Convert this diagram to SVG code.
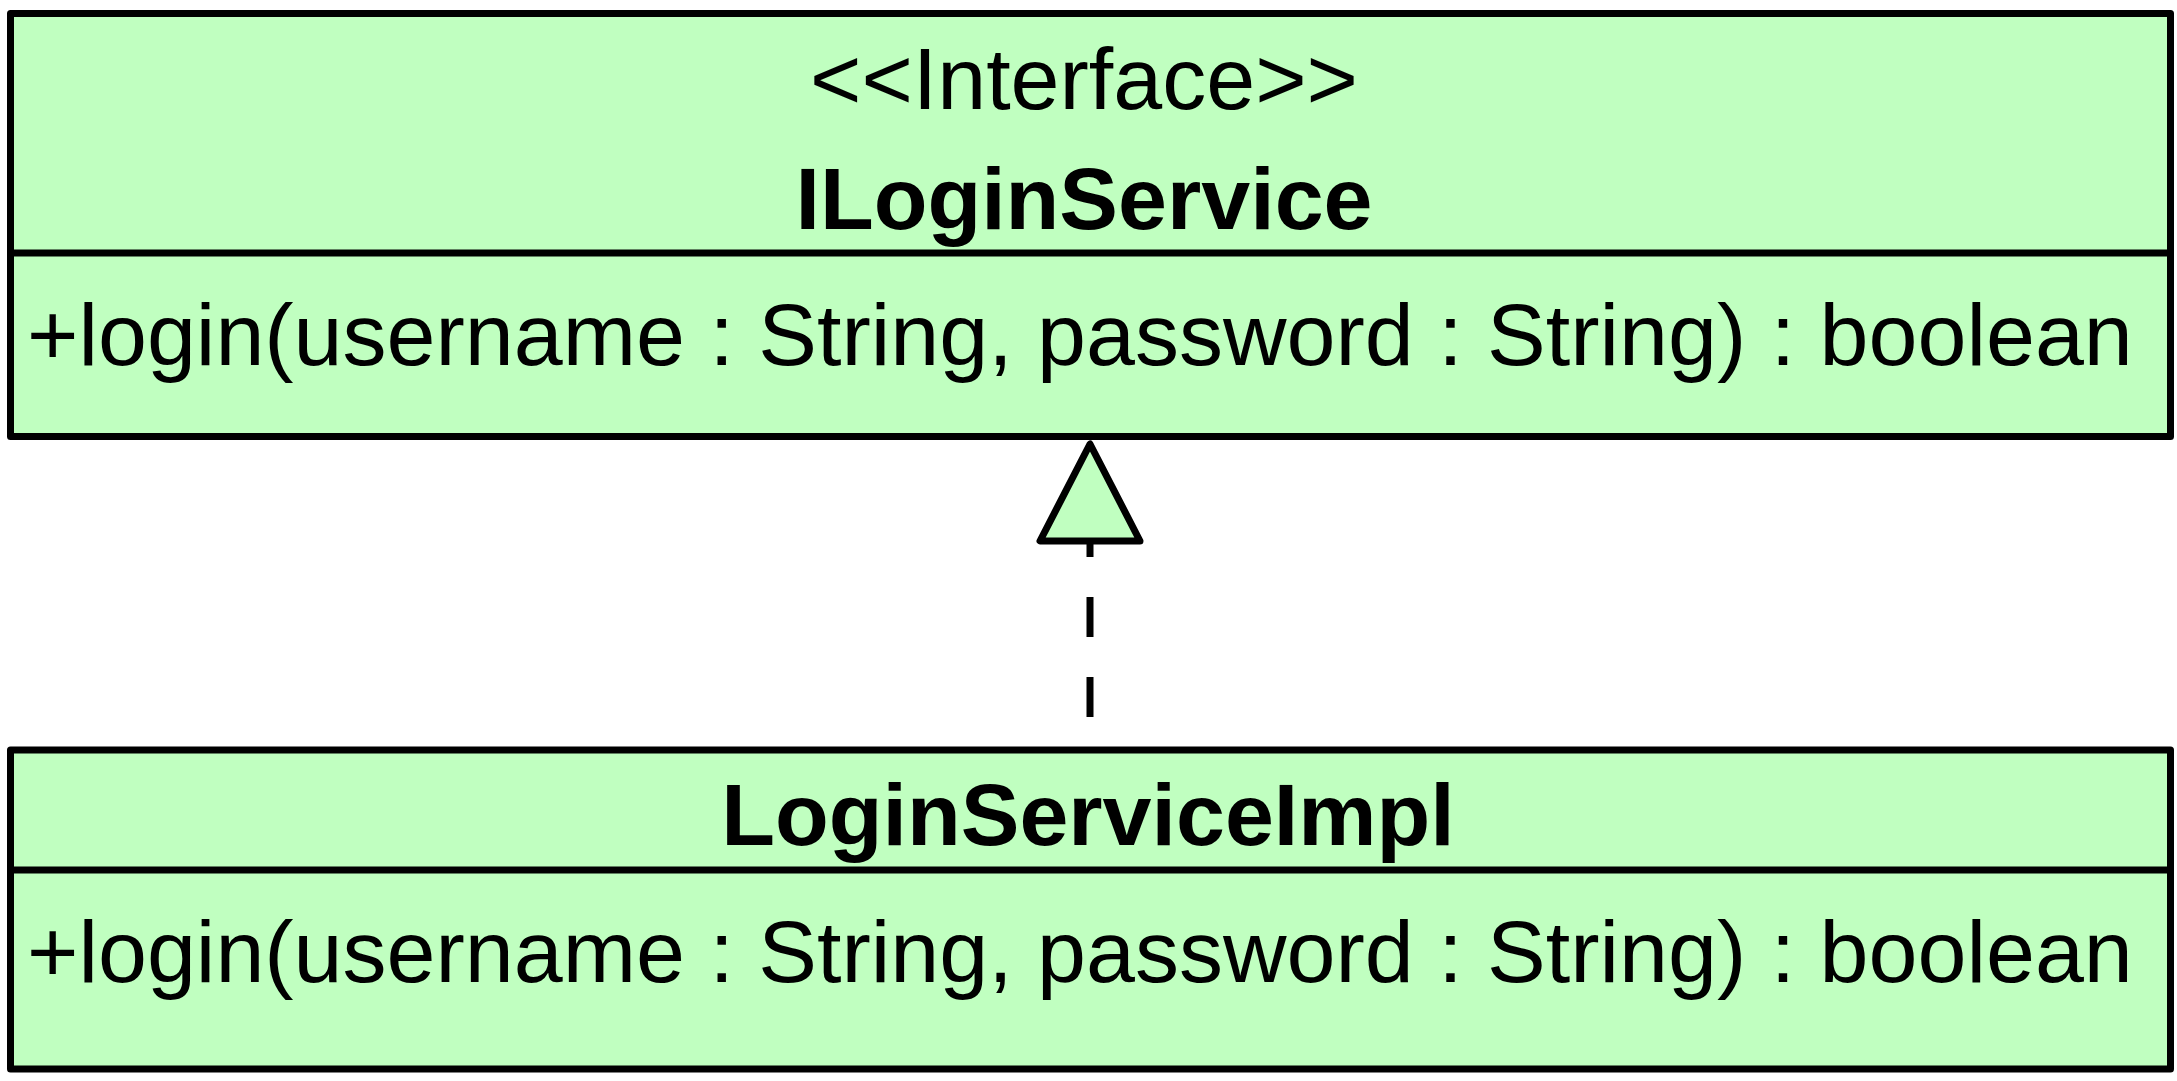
<svg xmlns="http://www.w3.org/2000/svg" width="2177" height="1081" viewBox="0 0 2177 1081">
<style>
.box{fill:#c0ffc0;stroke:#000;stroke-width:7;stroke-linejoin:round}
.div{stroke:#000;stroke-width:7}
.t{font-family:"Liberation Sans",Arial,sans-serif;font-size:88px;fill:#000}
.b{font-weight:bold}
.m{text-anchor:middle}
.edge{stroke:#000;stroke-width:7;fill:none;stroke-dasharray:40 40}
.head{fill:#c0ffc0;stroke:#000;stroke-width:7;stroke-linejoin:round}
</style>
<rect width="2177" height="1081" fill="#fff"/>
<g id="ILoginService">
<rect class="box" x="10.5" y="13.5" width="2160" height="423"/>
<line class="div" x1="10.5" y1="253" x2="2170.5" y2="253"/>
<text class="t m" x="1084" y="109">&lt;&lt;Interface&gt;&gt;</text>
<text class="t b m" x="1084" y="229">ILoginService</text>
<text class="t" x="27" y="365">+login(username : String, password : String) : boolean</text>
</g>
<g id="LoginServiceImpl">
<rect class="box" x="10.5" y="750" width="2160" height="319"/>
<line class="div" x1="10.5" y1="870" x2="2170.5" y2="870"/>
<text class="t b m" x="1088" y="845">LoginServiceImpl</text>
<text class="t" x="27" y="982">+login(username : String, password : String) : boolean</text>
</g>
<g id="connectors">
<line class="edge" x1="1090" y1="717" x2="1090" y2="542"/>
<polygon class="head" points="1090,444 1040,541 1140,541"/>
</g>
</svg>
